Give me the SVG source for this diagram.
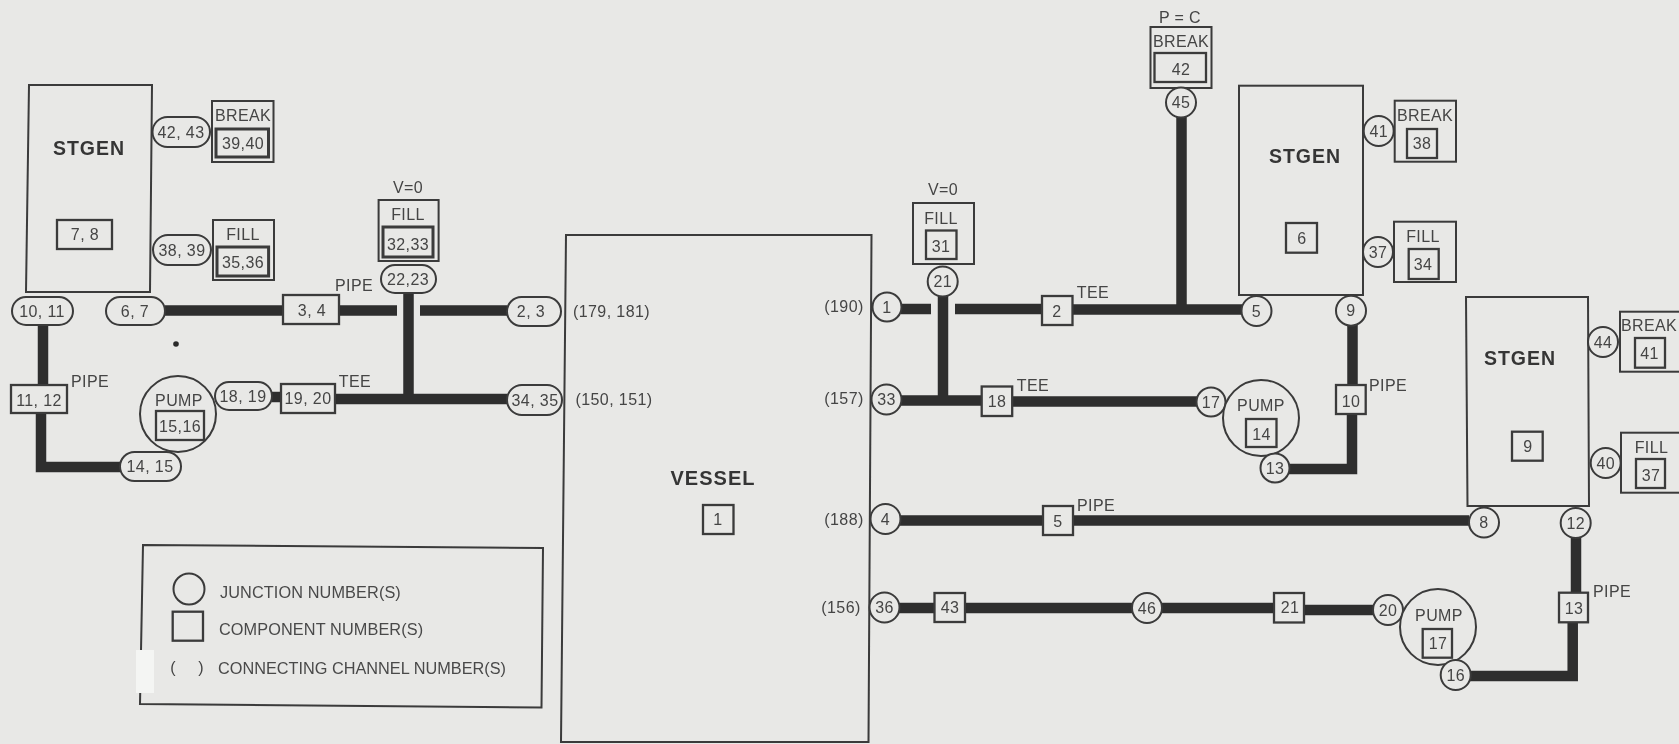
<svg xmlns="http://www.w3.org/2000/svg" width="1679" height="744" viewBox="0 0 1679 744">
<style>
.s{fill:#e8e8e6;stroke:#3a3a3a;stroke-width:2}
.b{fill:#e8e8e6;stroke:#3a3a3a;stroke-width:2.3}
.d{fill:#e8e8e6;stroke:#3a3a3a;stroke-width:3}
.p{fill:none;stroke:#2e2e2e;stroke-width:10.5;stroke-linejoin:miter}
text{font-family:"Liberation Sans",Arial,sans-serif;font-size:16px;fill:#454545;text-anchor:middle;dominant-baseline:central;letter-spacing:.4px}
.h{font-size:19.5px;font-weight:bold;fill:#353535;letter-spacing:1px}
.l{text-anchor:start;font-size:16.3px;fill:#4a4a4a;letter-spacing:.1px}
</style>
<defs><filter id="soft" filterUnits="userSpaceOnUse" x="0" y="0" width="1679" height="744"><feGaussianBlur stdDeviation="0.5"/></filter></defs>
<rect width="1679" height="744" fill="#e8e8e6"/>
<g filter="url(#soft)">
<g id="connectors">
<path class="p" d="M165 310.5H283M339 310.5H397M420 310.5H507"/>
<path class="p" d="M408.500 293V399M335 399H507"/>
<path class="p" d="M272 397H281" />
<path class="p" d="M43 325V385M41 413V467H120"/>
<path class="p" d="M901 309H931M955 309H1042M1072 309.500H1242"/>
<path class="p" d="M1181.500 117V310"/>
<path class="p" d="M943 296V400M900 400.500H982M1012 401.500H1197"/>
<path class="p" d="M1352.500 325V385M1352 414V469H1289"/>
<path class="p" d="M900 520.500H1043M1073 520.500H1469"/>
<path class="p" d="M899 608H935M965 608H1274M1304 610H1373"/>
<path class="p" d="M1576 538V593M1572.700 622V676H1470"/>
</g>
<g id="stgen-a"><polygon class="s" points="29,85 152,85 150,292 26,292"/><text class="h" x="89" y="148">STGEN</text></g>
<g id="c-7-8"><rect class="b" x="57" y="220" width="55" height="29"/><text x="85" y="234">7, 8</text></g>
<g id="j-42-43"><rect class="s" x="152.500" y="117" width="57.500" height="30" rx="15"/><text x="181" y="132">42, 43</text></g>
<g id="break-39-40"><rect class="s" x="212" y="101" width="61.500" height="61"/><text x="243" y="115">BREAK</text><rect class="d" x="216" y="129" width="52.500" height="28"/><text x="243" y="143">39,40</text></g>
<g id="j-38-39"><rect class="s" x="153" y="235" width="58" height="30" rx="15"/><text x="182" y="250">38, 39</text></g>
<g id="fill-35-36"><rect class="s" x="213" y="220" width="61" height="60"/><text x="243" y="234">FILL</text><rect class="d" x="217" y="247" width="51.600" height="29"/><text x="243" y="262">35,36</text></g>
<g id="fill-32-33"><text x="408" y="187">V=0</text><rect class="s" x="378.600" y="200" width="60" height="61"/><text x="408" y="214">FILL</text><rect class="d" x="383" y="227" width="50" height="30"/><text x="408" y="244">32,33</text></g>
<g id="j-22-23"><rect class="s" x="381" y="265" width="55" height="28" rx="14"/><text x="408" y="279">22,23</text></g>
<g id="j-10-11"><rect class="s" x="12" y="297" width="61" height="28" rx="14"/><text x="42" y="311">10, 11</text></g>
<g id="j-6-7"><rect class="s" x="106" y="297" width="59" height="28" rx="14"/><text x="135" y="311">6, 7</text></g>
<g id="c-3-4"><rect class="b" x="283" y="295" width="56" height="29"/><text x="312" y="310">3, 4</text><text x="354" y="285">PIPE</text></g>
<g id="j-2-3"><rect class="s" x="507" y="297" width="54" height="29" rx="14.500"/><text x="531" y="311">2, 3</text></g>
<g id="c-11-12"><rect class="b" x="11" y="385" width="56" height="28"/><text x="39" y="400">11, 12</text><text x="90" y="381">PIPE</text></g>
<g id="pump-15-16"><circle class="s" cx="178" cy="414" r="38"/><text x="179" y="400">PUMP</text><rect class="b" x="156" y="411" width="48" height="29"/><text x="180" y="426">15,16</text></g>
<g id="j-14-15"><rect class="s" x="120" y="452" width="61" height="29" rx="14.500"/><text x="150" y="466">14, 15</text></g>
<g id="j-18-19"><rect class="s" x="215" y="382" width="57" height="28" rx="14"/><text x="243" y="396">18, 19</text></g>
<g id="c-19-20"><rect class="b" x="281" y="384" width="54" height="29"/><text x="308" y="398">19, 20</text><text x="355" y="381">TEE</text></g>
<g id="j-34-35"><rect class="s" x="507" y="385" width="55" height="30" rx="15"/><text x="535" y="400">34, 35</text></g>
<circle cx="176" cy="344" r="2.800" fill="#2a2a2a"/>
<g id="vessel"><polygon class="s" points="566,235 871.500,235 868.500,742 561,742"/><text class="h" x="713" y="478" style="font-size:20px">VESSEL</text><rect class="b" x="703" y="505" width="30.500" height="29"/><text x="718" y="519">1</text><text x="611.500" y="311">(179, 181)</text><text x="614" y="399">(150, 151)</text><text x="844" y="306.500">(190)</text><text x="844" y="398">(157)</text><text x="844" y="519">(188)</text><text x="841" y="607.500">(156)</text></g>
<g id="j-1"><circle class="s" cx="887" cy="307" r="14.500"/><text x="887" y="307">1</text></g>
<g id="j-33"><circle class="s" cx="886.500" cy="399.500" r="15"/><text x="886.500" y="399.500">33</text></g>
<g id="j-4"><circle class="s" cx="885.500" cy="519" r="15"/><text x="885.500" y="519">4</text></g>
<g id="j-36"><circle class="s" cx="884.500" cy="607.500" r="15"/><text x="884.500" y="607.500">36</text></g>
<g id="fill-31"><text x="943" y="189">V=0</text><rect class="s" x="913" y="203" width="61" height="61"/><text x="941" y="218">FILL</text><rect class="b" x="926" y="230.500" width="30.500" height="28.500"/><text x="941" y="246">31</text></g>
<g id="j-21"><circle class="s" cx="942.700" cy="281.500" r="15"/><text x="942.700" y="281.500">21</text></g>
<g id="c-2"><rect class="b" x="1042" y="296" width="30.500" height="29"/><text x="1057" y="311">2</text><text x="1093" y="292.500">TEE</text></g>
<g id="c-18"><rect class="b" x="981.700" y="386.500" width="30.500" height="29.500"/><text x="997" y="401">18</text><text x="1033" y="385">TEE</text></g>
<g id="c-5"><rect class="b" x="1043" y="506" width="30" height="29"/><text x="1058" y="521">5</text><text x="1096" y="505">PIPE</text></g>
<g id="c-43"><rect class="b" x="934.500" y="593" width="30.500" height="29"/><text x="950" y="607">43</text></g>
<g id="j-46"><circle class="s" cx="1147" cy="608" r="15"/><text x="1147" y="608">46</text></g>
<g id="c-21"><rect class="b" x="1274" y="593" width="30" height="29.500"/><text x="1290" y="607">21</text></g>
<g id="break-42"><text x="1180" y="17">P = C</text><rect class="s" x="1150.500" y="27" width="61" height="61"/><text x="1181" y="41">BREAK</text><rect class="b" x="1154.500" y="53" width="51.500" height="29"/><text x="1181" y="69">42</text></g>
<g id="j-45"><circle class="s" cx="1181" cy="102.500" r="15"/><text x="1181" y="102.500">45</text></g>
<g id="j-5"><circle class="s" cx="1256.500" cy="311" r="15"/><text x="1256.500" y="311">5</text></g>
<g id="j-17"><circle class="s" cx="1211" cy="402" r="14.500"/><text x="1211" y="402">17</text></g>
<g id="pump-14"><circle class="s" cx="1261" cy="418" r="38"/><text x="1261" y="405">PUMP</text><rect class="b" x="1246" y="419" width="30.500" height="28"/><text x="1261.500" y="434">14</text></g>
<g id="j-13"><circle class="s" cx="1275" cy="468" r="14.500"/><text x="1275" y="468">13</text></g>
<g id="c-10"><rect class="b" x="1336" y="385" width="29.700" height="29"/><text x="1351" y="401">10</text><text x="1388" y="385">PIPE</text></g>
<g id="stgen-b"><rect class="s" x="1239" y="85.700" width="124" height="209.300"/><text class="h" x="1305" y="156">STGEN</text><rect class="b" x="1286" y="223" width="31" height="29.700"/><text x="1302" y="238">6</text></g>
<g id="j-41"><circle class="s" cx="1378.700" cy="131" r="15"/><text x="1378.700" y="131">41</text></g>
<g id="break-38"><rect class="s" x="1394.700" y="100.700" width="61.300" height="61"/><text x="1425" y="115">BREAK</text><rect class="b" x="1407" y="129" width="30" height="29"/><text x="1422" y="143.500">38</text></g>
<g id="j-37"><circle class="s" cx="1378" cy="252" r="15"/><text x="1378" y="252">37</text></g>
<g id="fill-34"><rect class="s" x="1394" y="221.700" width="62" height="60.300"/><text x="1423" y="236.500">FILL</text><rect class="b" x="1408.700" y="249" width="30" height="30"/><text x="1423" y="264">34</text></g>
<g id="j-9"><circle class="s" cx="1351" cy="310.700" r="15"/><text x="1351" y="310.700">9</text></g>
<g id="stgen-c"><polygon class="s" points="1466,297 1588,297 1589,506 1467.500,506"/><text class="h" x="1520" y="357.500">STGEN</text><rect class="b" x="1512" y="431.700" width="30.700" height="29"/><text x="1528" y="446">9</text></g>
<g id="j-44"><circle class="s" cx="1603" cy="342" r="15"/><text x="1603" y="342">44</text></g>
<g id="break-41"><rect class="s" x="1620" y="311.700" width="64" height="60"/><text x="1649" y="325">BREAK</text><rect class="b" x="1635" y="338" width="30" height="29.700"/><text x="1649.500" y="353">41</text></g>
<g id="j-40"><circle class="s" cx="1605.700" cy="463" r="15"/><text x="1605.700" y="463">40</text></g>
<g id="fill-37"><rect class="s" x="1621" y="432.700" width="63" height="60"/><text x="1651.500" y="447">FILL</text><rect class="b" x="1636" y="459" width="29" height="29"/><text x="1651" y="475">37</text></g>
<g id="j-8"><circle class="s" cx="1484" cy="522.500" r="15"/><text x="1484" y="522.500">8</text></g>
<g id="j-12"><circle class="s" cx="1575.700" cy="523" r="15"/><text x="1575.700" y="523">12</text></g>
<g id="c-13"><rect class="b" x="1559" y="592.700" width="29" height="29.600"/><text x="1574" y="608">13</text><text x="1612" y="591.500">PIPE</text></g>
<g id="j-20"><circle class="s" cx="1388" cy="610" r="15"/><text x="1388" y="610">20</text></g>
<g id="pump-17"><circle class="s" cx="1438" cy="627" r="38"/><text x="1439" y="615">PUMP</text><rect class="b" x="1422.700" y="629" width="29.300" height="28.700"/><text x="1438" y="643">17</text></g>
<g id="j-16"><circle class="s" cx="1455.700" cy="675" r="15"/><text x="1455.700" y="675">16</text></g>
<g id="legend">
<polygon class="s" points="143,545 543,548 541.500,707.500 140,704"/>
<rect x="136" y="650" width="18" height="43" fill="#f4f5f3"/>
<circle class="s" cx="189" cy="589" r="15.500"/>
<rect class="b" x="172.700" y="611.700" width="30.300" height="29"/>
<text x="173" y="667">(</text><text x="201" y="667">)</text>
<text class="l" x="220" y="591.500">JUNCTION NUMBER(S)</text>
<text class="l" x="219" y="629">COMPONENT NUMBER(S)</text>
<text class="l" x="218" y="668" style="letter-spacing:0">CONNECTING CHANNEL NUMBER(S)</text>
</g>
</g>
</svg>
